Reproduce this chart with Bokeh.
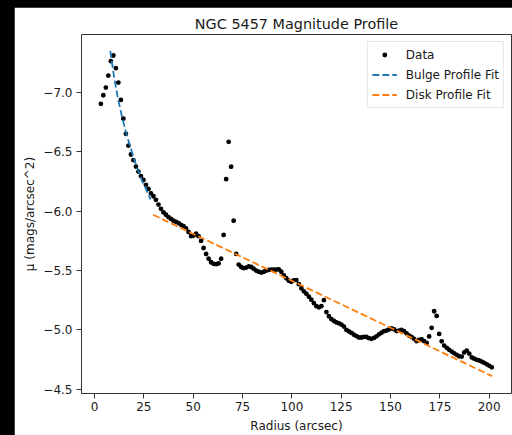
from bokeh.plotting import figure
from bokeh.models import (Range1d, FixedTicker, CustomJSTickFormatter, Legend,
                          LegendItem, GlobalInlineStyleSheet)
from bokeh.embed import file_html
from bokeh.resources import INLINE

# ---- data ----
radius = [3.2, 4.47, 5.74, 7.01, 8.28, 9.55, 10.82, 12.09, 13.36, 14.63,
          15.9, 17.17, 18.44, 19.71, 20.98, 22.25, 23.52, 24.79, 26.06, 27.33,
          28.6, 29.87, 31.14, 32.41, 33.68, 34.95, 36.22, 37.49, 38.76, 40.03,
          41.3, 42.57, 43.84, 45.11, 46.38, 47.65, 48.92, 50.19, 51.46, 52.73,
          54.0, 55.27, 56.54, 57.81, 59.08, 60.35, 61.62, 62.89, 64.16, 65.43,
          66.7, 67.97, 69.24, 70.51, 71.78, 73.05, 74.32, 75.59, 76.86, 78.13,
          79.4, 80.67, 81.94, 83.21, 84.48, 85.75, 87.02, 88.29, 89.56, 90.83,
          92.1, 93.37, 94.64, 95.91, 97.18, 98.45, 99.72, 100.99, 102.26, 103.53,
          104.8, 106.07, 107.34, 108.61, 109.88, 111.15, 112.42, 113.69, 114.96, 116.23,
          117.5, 118.77, 120.04, 121.31, 122.58, 123.85, 125.12, 126.39, 127.66, 128.93,
          130.2, 131.47, 132.74, 134.01, 135.28, 136.55, 137.82, 139.09, 140.36, 141.63,
          142.9, 144.17, 145.44, 146.71, 147.98, 149.25, 150.52, 151.79, 153.06, 154.33,
          155.6, 156.87, 158.14, 159.41, 160.68, 161.95, 163.22, 164.49, 165.76, 167.03,
          168.3, 169.57, 170.84, 172.11, 173.38, 174.65, 175.92, 177.19, 178.46, 179.73,
          181.0, 182.27, 183.54, 184.81, 186.08, 187.35, 188.62, 189.89, 191.16, 192.43,
          193.7, 194.97, 196.24, 197.51, 198.78, 200.05, 201.32]

mu = [-6.905, -6.977, -7.042, -7.143, -7.264, -7.312, -7.205, -7.084, -6.938, -6.78,
      -6.652, -6.553, -6.478, -6.43, -6.376, -6.334, -6.295, -6.264, -6.222, -6.188,
      -6.151, -6.126, -6.096, -6.056, -6.02, -5.99, -5.97, -5.95, -5.935, -5.92,
      -5.91, -5.90, -5.885, -5.875, -5.855, -5.825, -5.79, -5.795, -5.81, -5.79,
      -5.75, -5.69, -5.64, -5.60, -5.57, -5.557, -5.554, -5.56, -5.60, -5.80,
      -6.27, -6.585, -6.375, -5.92, -5.64, -5.55, -5.53, -5.52, -5.525, -5.535,
      -5.53, -5.515, -5.50, -5.49, -5.483, -5.49, -5.50, -5.505, -5.507, -5.507,
      -5.508, -5.51, -5.49, -5.46, -5.435, -5.415, -5.405, -5.418, -5.42, -5.385,
      -5.35, -5.325, -5.305, -5.28, -5.255, -5.225, -5.20, -5.19, -5.20, -5.25,
      -5.15, -5.115, -5.09, -5.075, -5.063, -5.055, -5.045, -5.028, -5.0, -4.987,
      -4.974, -4.96, -4.947, -4.936, -4.936, -4.942, -4.94, -4.93, -4.925, -4.932,
      -4.946, -4.963, -4.976, -4.989, -4.994, -5.004, -5.013, -5.005, -4.99, -4.993,
      -5.0, -4.99, -4.97, -4.952, -4.94, -4.925, -4.905, -4.915, -4.92, -4.905,
      -4.89, -4.945, -5.017, -5.157, -5.118, -4.966, -4.904, -4.868, -4.849, -4.832,
      -4.817, -4.803, -4.79, -4.777, -4.775, -4.81, -4.826, -4.80, -4.768, -4.757,
      -4.748, -4.742, -4.733, -4.722, -4.71, -4.697, -4.685]

bulge_r = [8.0, 10.0, 12.0, 14.0, 16.0, 18.0, 20.0, 22.0, 24.0, 26.0, 28.4]
bulge_mu = [-7.35, -7.12, -6.94, -6.79, -6.66, -6.55, -6.44, -6.35, -6.26, -6.19, -6.10]

disk_r = [29.7, 201.5]
disk_mu = [-5.97, -4.61]

x_ticks = [0, 25, 50, 75, 100, 125, 150, 175, 200]
y_ticks = [-7.0, -6.5, -6.0, -5.5, -5.0, -4.5]

title_text = "NGC 5457 Magnitude Profile"
x_label = "Radius (arcsec)"
y_label = "\u03bc (mags/arcsec^2)"
legend_labels = ["Data", "Bulge Profile Fit", "Disk Profile Fit"]

FONT = "DejaVu Sans"
TXT = "#1a1a1a"

page_css = GlobalInlineStyleSheet(css="html, body {margin:0; padding:0; background:#000; overflow:hidden;}")

p = figure(width=498, height=428, output_backend="svg", toolbar_location=None,
           x_range=Range1d(-6.6, 211.3), y_range=Range1d(-4.464, -7.489),
           min_border_left=67, min_border_right=1, min_border_top=27, min_border_bottom=42,
           title=title_text)
p.margin = (7, 0, 0, 14)
p.stylesheets = [page_css]

p.background_fill_color = "white"
p.border_fill_color = "white"
p.outline_line_color = "#333333"
p.outline_line_width = 1
p.xgrid.visible = False
p.ygrid.visible = False

p.title.text_font = FONT
p.title.text_font_size = "14.4px"
p.title.text_font_style = "normal"
p.title.text_color = TXT
p.title.align = "center"
p.title.standoff = 5

for ax in (p.xaxis[0], p.yaxis[0]):
    ax.axis_line_color = None
    ax.major_tick_line_color = "#333333"
    ax.major_tick_out = 5
    ax.major_tick_in = 0
    ax.minor_tick_line_color = None
    ax.major_label_text_font = FONT
    ax.major_label_text_font_size = "12px"
    ax.major_label_text_color = TXT
    ax.axis_label_text_font = FONT
    ax.axis_label_text_font_size = "12px"
    ax.axis_label_text_font_style = "normal"
    ax.axis_label_text_color = TXT

p.xaxis.ticker = FixedTicker(ticks=x_ticks)
p.yaxis.ticker = FixedTicker(ticks=y_ticks)
p.yaxis.formatter = CustomJSTickFormatter(code="return tick.toFixed(1).replace('-', '\u2212');")
p.xaxis.axis_label = x_label
p.yaxis.axis_label = y_label
p.xaxis.major_label_standoff = 3
p.xaxis.axis_label_standoff = 5
p.yaxis.major_label_standoff = 4
p.yaxis.axis_label_standoff = 3

r_data = p.scatter(radius, mu, size=3.6, fill_color="black", line_color="black", line_width=1.2)
r_bulge = p.line(bulge_r, bulge_mu, line_color="#1f77b4", line_width=1.8, line_dash="7 3")
r_disk = p.line(disk_r, disk_mu, line_color="#ff7f0e", line_width=1.8, line_dash="7 3")

legend = Legend(items=[LegendItem(label=legend_labels[0], renderers=[r_data]),
                       LegendItem(label=legend_labels[1], renderers=[r_bulge]),
                       LegendItem(label=legend_labels[2], renderers=[r_disk])],
                location="top_right")
legend.label_text_font = FONT
legend.label_text_font_size = "12px"
legend.label_text_color = TXT
legend.glyph_width = 25
legend.glyph_height = 9
legend.label_height = 17
legend.label_standoff = 9
legend.padding = 4
legend.spacing = 3
legend.margin = 7
legend.border_line_color = "#cccccc"
legend.border_line_width = 1
legend.background_fill_alpha = 0.8
p.add_layout(legend)

open("out.html", "w").write(file_html(p, INLINE))
